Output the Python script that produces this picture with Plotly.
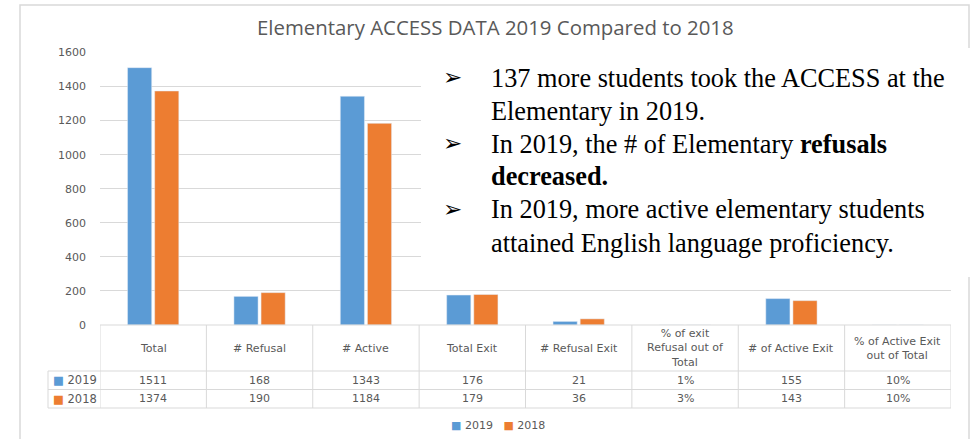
import plotly.graph_objects as go

categories = ["Total", "# Refusal", "# Active", "Total Exit", "# Refusal Exit",
              "% of exit<br>Refusal out of<br>Total", "# of Active Exit",
              "% of Active Exit<br>out of Total"]
values_2019 = [1511, 168, 1343, 176, 21, 0.01, 155, 0.10]
values_2018 = [1374, 190, 1184, 179, 36, 0.03, 143, 0.10]
labels_2019 = ["1511", "168", "1343", "176", "21", "1%", "155", "10%"]
labels_2018 = ["1374", "190", "1184", "179", "36", "3%", "143", "10%"]
series_names = ["2019", "2018"]
y_ticks = [0, 200, 400, 600, 800, 1000, 1200, 1400, 1600]
title_text = "Elementary ACCESS DATA 2019 Compared to 2018"
bullets = [
    ["137 more students took the ACCESS at the", "Elementary in 2019."],
    ["In 2019, the # of Elementary <b>refusals</b>", "<b>decreased.</b>"],
    ["In 2019, more active elementary students", "attained English language proficiency."],
]

BLUE = "#5b9bd5"
ORANGE = "#ed7d31"
GRID = "#d9d9d9"
TXT = "#595959"
W, H = 972, 439
FONT = "DejaVu Sans"


def px(x):
    return x / W


def py(y):
    return 1 - y / H


xs = list(range(len(categories)))

fig = go.Figure()
fig.add_trace(go.Bar(x=xs, y=values_2019, name=series_names[0], marker_color=BLUE))
fig.add_trace(go.Bar(x=xs, y=values_2018, name=series_names[1], marker_color=ORANGE))

shapes = []
annotations = []

# outer chart border
shapes.append(dict(type="rect", xref="paper", yref="paper", x0=px(20), x1=px(969),
                   y0=py(445), y1=py(5), line=dict(color=GRID, width=1.5), layer="below"))

# data table lines
y_top, y_hdr, y_r1, y_r2 = 325, 371, 389.5, 408
for i in range(len(categories) + 1):
    shapes.append(dict(type="line", xref="x", yref="paper", x0=i - 0.5, x1=i - 0.5,
                       y0=py(y_r2), y1=py(y_top), line=dict(color=GRID, width=1)))
shapes.append(dict(type="line", xref="paper", yref="paper", x0=px(48), x1=px(48),
                   y0=py(y_r2), y1=py(y_hdr), line=dict(color=GRID, width=1)))
for yy in (y_hdr, y_r1, y_r2):
    shapes.append(dict(type="line", xref="paper", yref="paper", x0=px(48), x1=px(951),
                       y0=py(yy), y1=py(yy), line=dict(color=GRID, width=1)))
shapes.append(dict(type="line", xref="paper", yref="paper", x0=px(100), x1=px(951),
                   y0=py(y_top), y1=py(y_top), line=dict(color=GRID, width=1)))

tfont = dict(family=FONT, size=11, color=TXT)
for i, c in enumerate(categories):
    annotations.append(dict(x=i, y=py((y_top + y_hdr) / 2), xref="x", yref="paper",
                            xanchor="center", yanchor="middle",
                            text=c, showarrow=False, font=tfont))
    annotations.append(dict(x=i, y=py((y_hdr + y_r1) / 2), xref="x", yref="paper",
                            xanchor="center", yanchor="middle",
                            text=labels_2019[i], showarrow=False, font=tfont))
    annotations.append(dict(x=i, y=py((y_r1 + y_r2) / 2), xref="x", yref="paper",
                            xanchor="center", yanchor="middle",
                            text=labels_2018[i], showarrow=False, font=tfont))
annotations.append(dict(x=px(51), y=py((y_hdr + y_r1) / 2), xref="paper", yref="paper",
                        xanchor="left", yanchor="middle", showarrow=False,
                        text=f"<span style='color:{BLUE}'>■</span> {series_names[0]}",
                        font=dict(family=FONT, size=11.5, color=TXT)))
annotations.append(dict(x=px(51), y=py((y_r1 + y_r2) / 2), xref="paper", yref="paper",
                        xanchor="left", yanchor="middle", showarrow=False,
                        text=f"<span style='color:{ORANGE}'>■</span> {series_names[1]}",
                        font=dict(family=FONT, size=11.5, color=TXT)))

# legend (compact, as in the reference)
annotations.append(dict(x=px(498), y=py(425), xref="paper", yref="paper",
                        xanchor="center", yanchor="middle", showarrow=False,
                        text=(f"<span style='color:{BLUE}'>■</span> {series_names[0]}   "
                              f"<span style='color:{ORANGE}'>■</span> {series_names[1]}"),
                        font=dict(family=FONT, size=11, color=TXT)))

# title
annotations.append(dict(x=px(495), y=py(27), xref="paper", yref="paper", text=title_text,
                        xanchor="center", yanchor="middle",
                        showarrow=False, font=dict(family="Open Sans", size=20.4, color=TXT)))

# white text box
shapes.append(dict(type="rect", xref="paper", yref="paper", x0=px(421), x1=px(975),
                   y0=py(277), y1=py(48), fillcolor="white", line=dict(width=0), layer="above"))

line_ys = [78, 111, 144, 177, 210, 243]
k = 0
for b in bullets:
    annotations.append(dict(x=px(441), y=py(line_ys[k] - 1), xref="paper", yref="paper",
                            xanchor="left", yanchor="middle", text="➢", showarrow=False,
                            font=dict(family="DejaVu Sans", size=23, color="black")))
    for ln in b:
        annotations.append(dict(x=px(489), y=py(line_ys[k]), xref="paper", yref="paper",
                                xanchor="left", yanchor="middle", text=ln, showarrow=False,
                                font=dict(family="Liberation Serif", size=26.3, color="black")))
        k += 1

fig.update_layout(
    width=W, height=H,
    margin=dict(l=0, r=0, t=0, b=0, pad=0, autoexpand=False),
    paper_bgcolor="white", plot_bgcolor="white",
    barmode="group", bargap=0.49, bargroupgap=0.11,
    xaxis=dict(domain=[px(100), px(951)], range=[-0.5, len(categories) - 0.5],
               showticklabels=False, showgrid=False, zeroline=False, showline=False,
               fixedrange=True),
    yaxis=dict(domain=[py(325), py(52.5)], range=[0, 1600], tickvals=y_ticks,
               showgrid=True, gridcolor=GRID, gridwidth=1, zeroline=False, showline=False,
               automargin=False,
               tickfont=dict(family=FONT, size=11, color=TXT), ticks="", ticklabelstandoff=13),
    shapes=shapes, annotations=annotations,
    showlegend=False,
)

fig.write_html("out.html", config={"displayModeBar": False},
               post_script="document.body.style.margin='0px';document.body.style.overflow='hidden';")
